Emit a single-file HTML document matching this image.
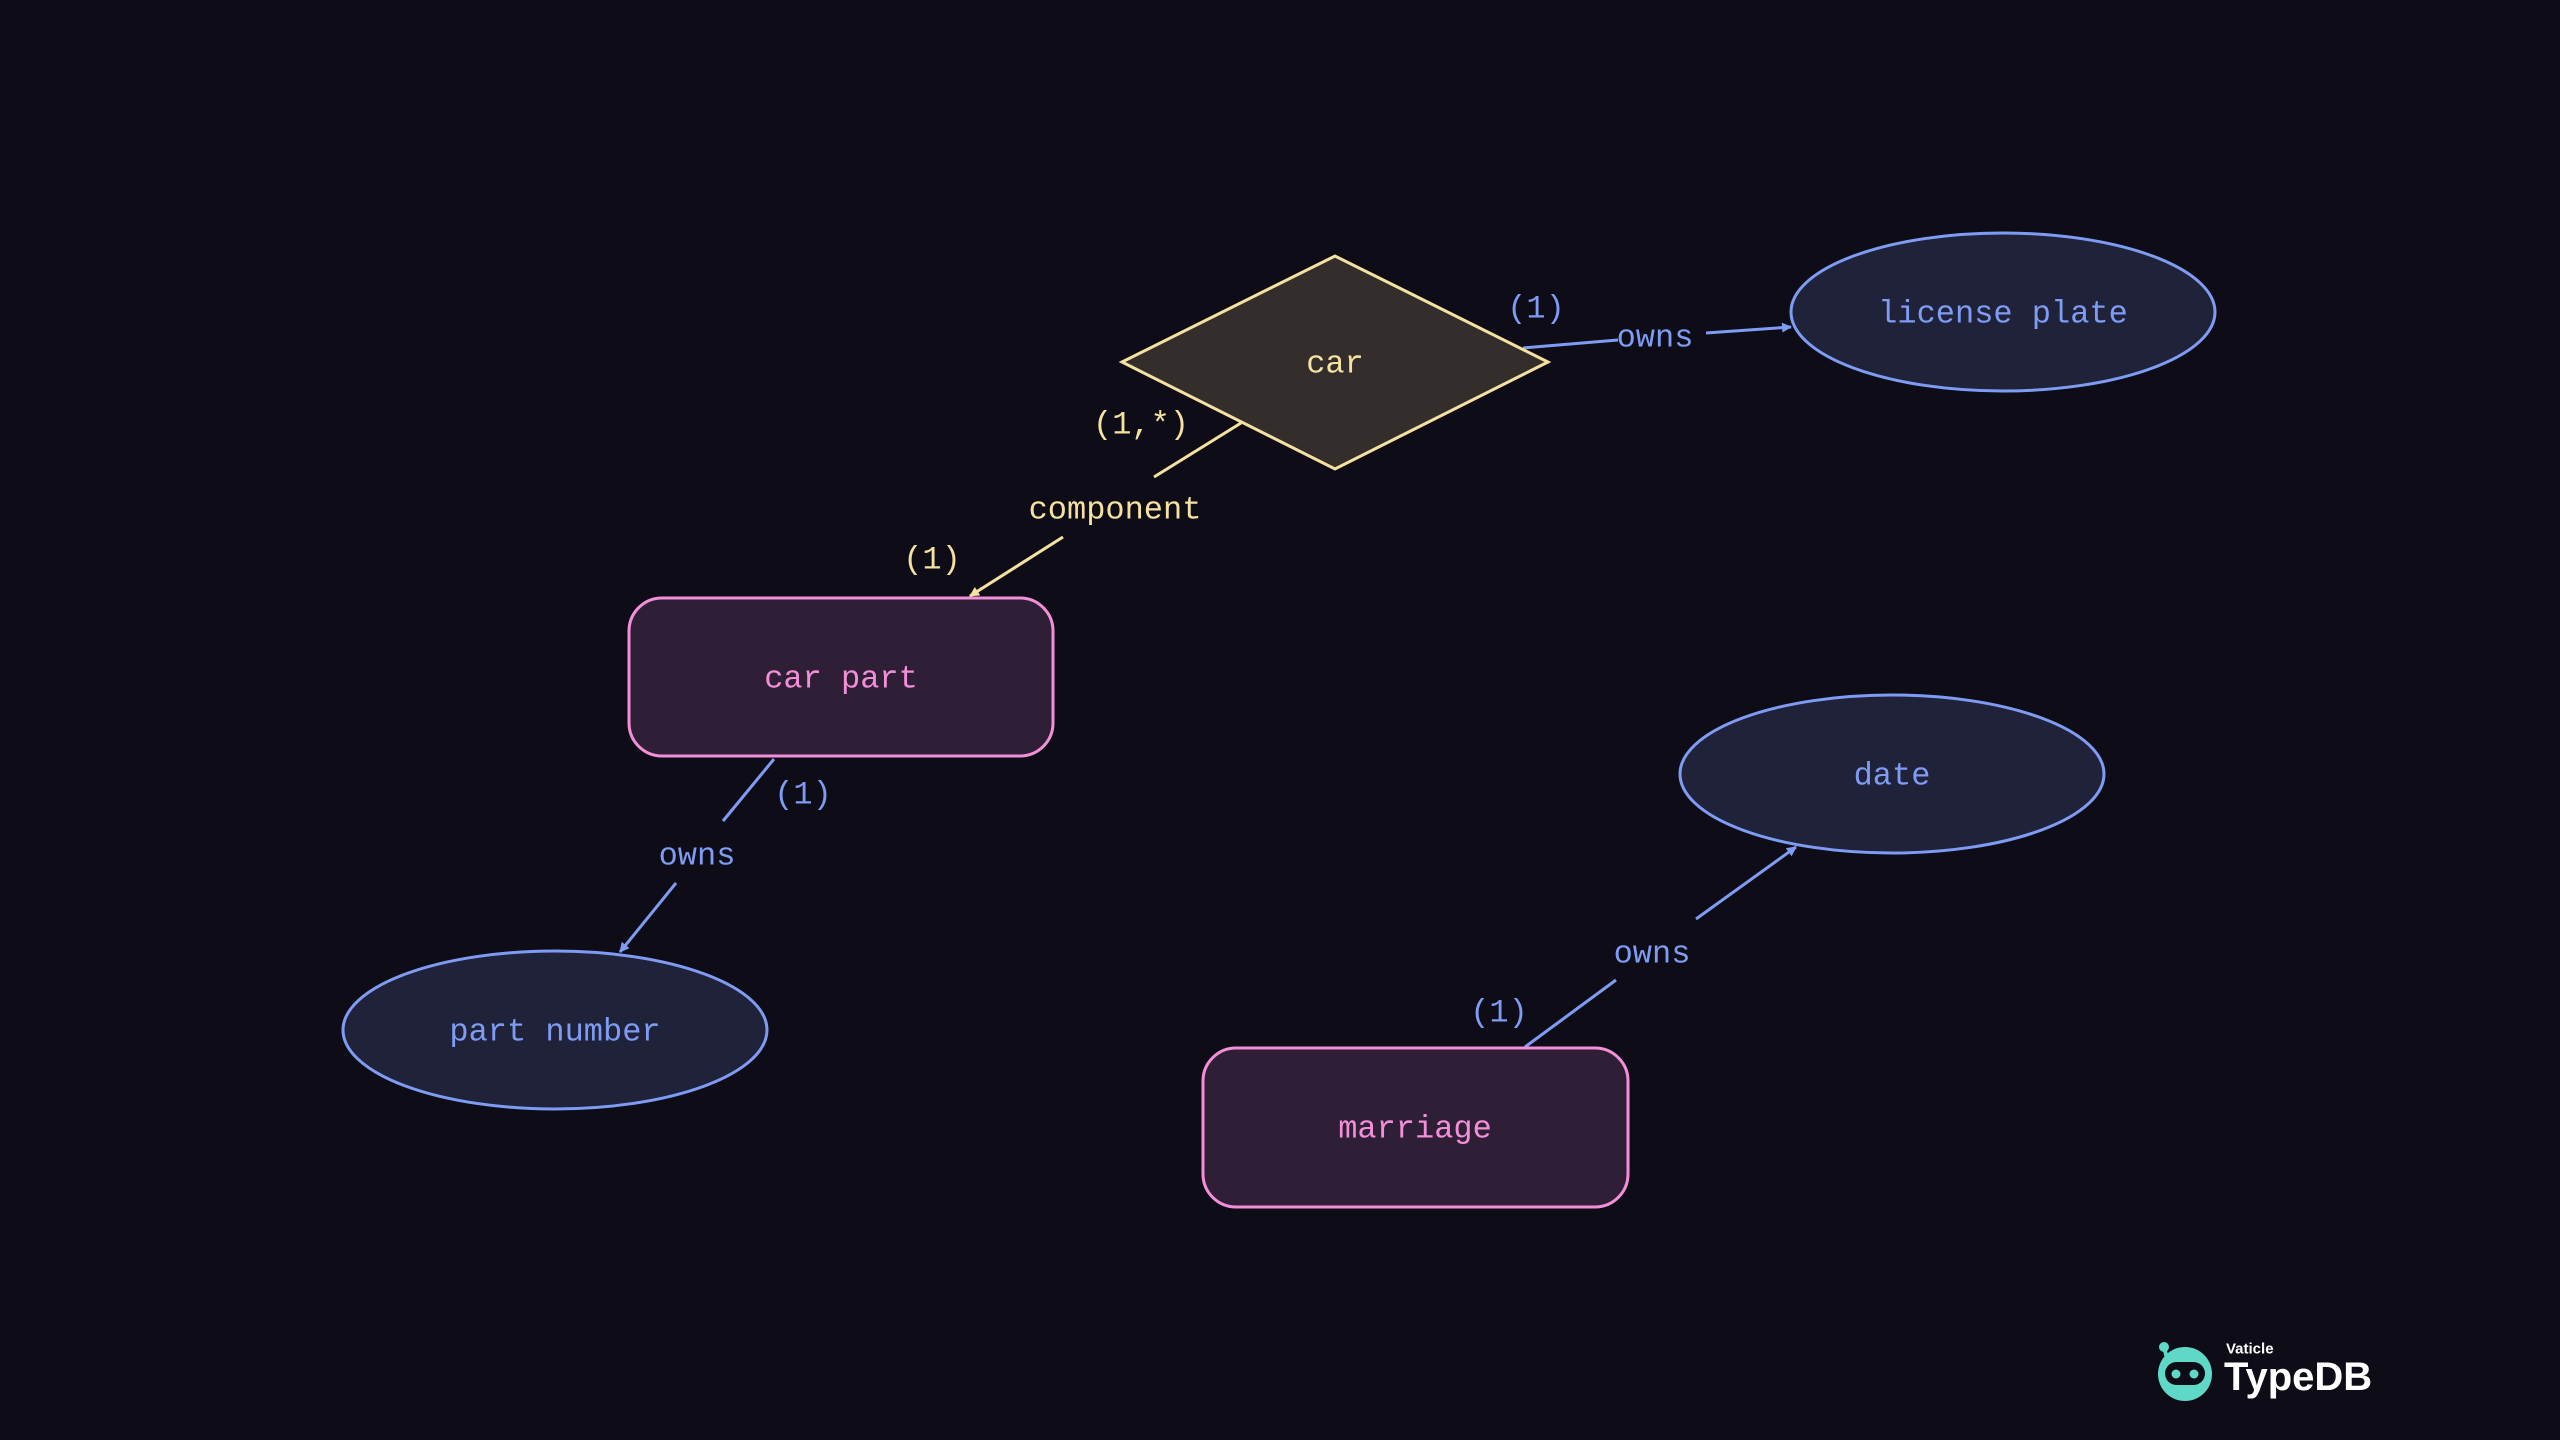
<!DOCTYPE html>
<html><head><meta charset="utf-8"><style>
html,body{margin:0;padding:0;background:#0e0d17;}
svg{display:block;}
text{font-family:"Liberation Mono","DejaVu Sans Mono",monospace;font-size:32px;dominant-baseline:central;text-anchor:middle;}
</style></head><body>
<svg width="2560" height="1440" viewBox="0 0 2560 1440" xmlns="http://www.w3.org/2000/svg">
<defs>
<marker id="ab" markerWidth="10" markerHeight="10" refX="9" refY="5" orient="auto" markerUnits="userSpaceOnUse"><path d="M0,0 L10,5 L0,10 z" fill="#7f9cf5"/></marker>
<marker id="ay" markerWidth="10" markerHeight="10" refX="9" refY="5" orient="auto" markerUnits="userSpaceOnUse"><path d="M0,0 L10,5 L0,10 z" fill="#f6e2a0"/></marker>
</defs>
<rect width="2560" height="1440" fill="#0e0d17"/>

<g stroke="#7f9cf5" stroke-width="3" fill="none">
<line x1="1523" y1="348" x2="1618" y2="340"/>
<line x1="1706" y1="333" x2="1791" y2="327" marker-end="url(#ab)"/>
<line x1="774" y1="759" x2="723" y2="821"/>
<line x1="676" y1="883" x2="620" y2="952" marker-end="url(#ab)"/>
<line x1="1525" y1="1047" x2="1616" y2="980"/>
<line x1="1696" y1="919" x2="1796" y2="847" marker-end="url(#ab)"/>
</g>
<g stroke="#f6e2a0" stroke-width="3" fill="none">
<line x1="1241" y1="423" x2="1154" y2="477"/>
<line x1="1063" y1="537" x2="970" y2="596" marker-end="url(#ay)"/>
</g>

<polygon points="1122,362 1335,256 1548,362 1335,469" fill="#332e2c" stroke="#f6e2a0" stroke-width="3"/>
<text x="1335" y="364" fill="#f6e2a0">car</text>

<ellipse cx="2003" cy="312" rx="212" ry="79" fill="#1f2238" stroke="#7f9cf5" stroke-width="3"/>
<text x="2003" y="314" fill="#7f9cf5">license plate</text>

<rect x="629" y="598" width="424" height="158" rx="33" fill="#2e1f36" stroke="#f38ed8" stroke-width="3"/>
<text x="841" y="679" fill="#f38ed8">car part</text>

<ellipse cx="555" cy="1030" rx="212" ry="79" fill="#1f2238" stroke="#7f9cf5" stroke-width="3"/>
<text x="555" y="1032" fill="#7f9cf5">part number</text>

<ellipse cx="1892" cy="774" rx="212" ry="79" fill="#1f2238" stroke="#7f9cf5" stroke-width="3"/>
<text x="1892" y="776" fill="#7f9cf5">date</text>

<rect x="1203" y="1048" width="425" height="159" rx="33" fill="#2e1f36" stroke="#f38ed8" stroke-width="3"/>
<text x="1415" y="1129" fill="#f38ed8">marriage</text>

<text x="1536" y="309" fill="#7f9cf5">(1)</text>
<text x="1655" y="338" fill="#7f9cf5">owns</text>
<text x="1141" y="425" fill="#f6e2a0">(1,*)</text>
<text x="1115" y="510" fill="#f6e2a0">component</text>
<text x="932" y="560" fill="#f6e2a0">(1)</text>
<text x="803" y="795" fill="#7f9cf5">(1)</text>
<text x="697" y="856" fill="#7f9cf5">owns</text>
<text x="1652" y="954" fill="#7f9cf5">owns</text>
<text x="1499" y="1013" fill="#7f9cf5">(1)</text>

<g>
<circle cx="2164" cy="1347" r="5" fill="#5fd8c8"/>
<line x1="2164" y1="1347" x2="2168" y2="1362" stroke="#5fd8c8" stroke-width="4"/>
<circle cx="2185" cy="1374" r="27" fill="#5fd8c8"/>
<rect x="2165" y="1362" width="40" height="23" rx="11.5" fill="#0e0d17"/>
<circle cx="2176" cy="1374" r="4.5" fill="#5fd8c8"/>
<circle cx="2194" cy="1374" r="4.5" fill="#5fd8c8"/>
<text x="2226" y="1349" fill="#ffffff" style="font-family:'Liberation Sans',sans-serif;font-size:15px;font-weight:bold;text-anchor:start">Vaticle</text>
<text x="2224" y="1377" fill="#ffffff" style="font-family:'Liberation Sans',sans-serif;font-size:40px;font-weight:bold;text-anchor:start">TypeDB</text>
</g>
</svg>
</body></html>
